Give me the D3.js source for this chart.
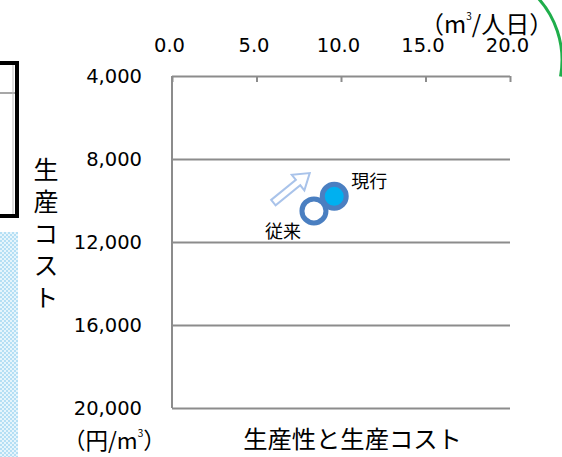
<!DOCTYPE html>
<html>
<head>
<meta charset="utf-8">
<script src="https://cdn.jsdelivr.net/npm/d3@7"></script>
<style>
  html, body { margin: 0; padding: 0; background: #fff; }
  svg { display: block; }
</style>
</head>
<body>
<svg id="chart" width="562" height="457"></svg>
<script>
// Productivity (m³ per person-day) vs production cost (yen per m³)
const categories = ["従来", "現行"];
const productivity = [8.4, 9.6];
const cost = [10500, 9800];
const xTicks = [0, 5, 10, 15, 20];
const yTicks = [4000, 8000, 12000, 16000, 20000];
// Improvement arrow (from, to) in data units
const arrowFrom = [6.0, 10100];
const arrowTo = [8.15, 8680];

const svg = d3.select("#chart");
const W = 562, H = 457;
const plotLeft = 172, plotRight = 510, plotTop = 76, plotBottom = 408;

const x = d3.scaleLinear().domain([0, 20]).range([plotLeft, plotRight]);
const y = d3.scaleLinear().domain([4000, 20000]).range([plotTop, plotBottom]);

const cjk = "'Noto Sans CJK JP', 'Noto Sans', sans-serif";
const num = "'DejaVu Sans', sans-serif";
const gridColor = "#8c8c8c";

// Decorative frame on the left edge
const defs = svg.append("defs");
const pat = defs.append("pattern").attr("id", "dots")
  .attr("width", 4).attr("height", 4).attr("patternUnits", "userSpaceOnUse");
pat.append("rect").attr("width", 4).attr("height", 4).attr("fill", "#e6f5fc");
pat.append("rect").attr("width", 2).attr("height", 2).attr("fill", "#b5dff4");
pat.append("rect").attr("x", 2).attr("y", 2).attr("width", 2).attr("height", 2).attr("fill", "#b5dff4");
svg.append("rect").attr("x", 0).attr("y", 232).attr("width", 18).attr("height", H - 232)
  .attr("fill", "url(#dots)");
svg.append("line").attr("x1", 0).attr("x2", 15).attr("y1", 93).attr("y2", 93)
  .attr("stroke", "#8a8a8a").attr("stroke-width", 1.5);
svg.append("line").attr("x1", 13).attr("x2", 13).attr("y1", 64).attr("y2", 216)
  .attr("stroke", "#bbbbbb").attr("stroke-width", 1);
svg.append("path").attr("d", "M0,63 H17 V216 H0")
  .attr("fill", "none").attr("stroke", "#000").attr("stroke-width", 4);

// Green arc in the top-right corner
svg.append("path")
  .attr("d", d3.arc().innerRadius(92).outerRadius(92).startAngle(0.75).endAngle(1.75)())
  .attr("transform", "translate(470,60)")
  .attr("fill", "none").attr("stroke", "#1fae4b").attr("stroke-width", 3);

// Horizontal gridlines (including top and bottom frame)
svg.append("g")
  .attr("transform", `translate(${plotLeft},0)`)
  .call(d3.axisLeft(y).tickValues(yTicks).tickSize(-(plotRight - plotLeft)).tickFormat(""))
  .call(g => g.select(".domain").remove())
  .call(g => g.selectAll("line").attr("stroke", gridColor).attr("stroke-width", 2));

// Left axis line
svg.append("line").attr("x1", plotLeft).attr("x2", plotLeft).attr("y1", plotTop).attr("y2", plotBottom)
  .attr("stroke", gridColor).attr("stroke-width", 2);

// Y axis labels
svg.append("g")
  .attr("transform", `translate(${plotLeft},0)`)
  .call(d3.axisLeft(y).tickValues(yTicks).tickSize(0).tickPadding(30).tickFormat(d3.format(",")))
  .call(g => g.select(".domain").remove())
  .call(g => g.selectAll("text").attr("font-family", num).attr("font-size", 19.5).attr("fill", "#000"));

// Top axis (ticks point inward)
svg.append("g")
  .attr("transform", `translate(0,${plotTop})`)
  .call(d3.axisTop(x).tickValues(xTicks).tickSize(-6).tickPadding(24).tickFormat(d3.format(".1f")))
  .call(g => g.select(".domain").remove())
  .call(g => g.selectAll("line").attr("stroke", gridColor).attr("stroke-width", 2))
  .call(g => g.selectAll("text").attr("font-family", num).attr("font-size", 19.5)
    .attr("fill", "#000").attr("dx", -3));

// Unit labels
const unitTop = svg.append("text").attr("x", 420).attr("y", 33)
  .attr("font-family", cjk).attr("font-size", 24).attr("fill", "#000");
unitTop.append("tspan").text("（m");
unitTop.append("tspan").attr("font-size", 10).attr("dy", -13).text("3");
unitTop.append("tspan").attr("dy", 13).text("/人日）");

const unitLeft = svg.append("text").attr("x", 63).attr("y", 449)
  .attr("font-family", cjk).attr("font-size", 22.5).attr("fill", "#000");
unitLeft.append("tspan").text("（円/m");
unitLeft.append("tspan").attr("font-size", 10).attr("dy", -12).text("3");
unitLeft.append("tspan").attr("dy", 12).text("）");

// Vertical y-axis title
svg.append("text")
  .attr("x", 46).attr("y", 157)
  .attr("writing-mode", "vertical-rl")
  .attr("letter-spacing", 7)
  .attr("font-family", cjk).attr("font-size", 25).attr("fill", "#000")
  .text("生産コスト");

// Chart title
svg.append("text").attr("x", 352.5).attr("y", 448).attr("text-anchor", "middle")
  .attr("font-family", cjk).attr("font-size", 24.3).attr("fill", "#000")
  .text("生産性と生産コスト");

// Block arrow showing the direction of improvement
(function () {
  const x0 = x(arrowFrom[0]), y0 = y(arrowFrom[1]);
  const x1 = x(arrowTo[0]), y1 = y(arrowTo[1]);
  const len = Math.hypot(x1 - x0, y1 - y0);
  const ang = Math.atan2(y1 - y0, x1 - x0) * 180 / Math.PI;
  const sw = 3.5, hw = 10, hl = 15;
  const shape = [[0, -sw], [len - hl, -sw], [len - hl, -hw], [len, 0],
                 [len - hl, hw], [len - hl, sw], [0, sw]];
  svg.append("path")
    .attr("d", d3.line()(shape) + "Z")
    .attr("transform", `translate(${x0},${y0}) rotate(${ang})`)
    .attr("fill", "#fff").attr("stroke", "#a9c3ea").attr("stroke-width", 2)
    .attr("stroke-linejoin", "miter");
})();

// Points
const points = categories.map((c, i) => ({ name: c, px: productivity[i], py: cost[i] }));
const fills = ["#ffffff", "#00b0f0"];
svg.append("g").selectAll("circle").data(points).join("circle")
  .attr("cx", d => x(d.px)).attr("cy", d => y(d.py)).attr("r", 12)
  .attr("fill", (d, i) => fills[i])
  .attr("stroke", "#4a7fc1").attr("stroke-width", 5);

// Point labels
const labelPos = [{ dx: -13, dy: 27, anchor: "end" }, { dx: 17, dy: -8, anchor: "start" }];
svg.append("g").selectAll("text").data(points).join("text")
  .attr("x", (d, i) => x(d.px) + labelPos[i].dx)
  .attr("y", (d, i) => y(d.py) + labelPos[i].dy)
  .attr("text-anchor", (d, i) => labelPos[i].anchor)
  .attr("font-family", cjk).attr("font-size", 18).attr("fill", "#000")
  .text(d => d.name);
</script>
</body>
</html>
